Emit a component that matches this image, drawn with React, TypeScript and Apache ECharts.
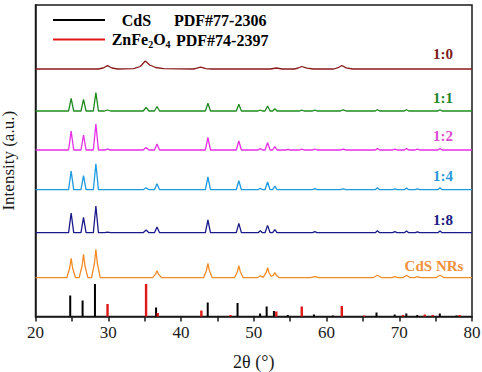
import React, { useEffect, useRef } from "react";
import * as echarts from "echarts";

// 2θ range and tick labels
const xTicks = [20, 30, 40, 50, 60, 70, 80];

// Curve names (top to bottom)
const curveNames = ["1:0", "1:1", "1:2", "1:4", "1:8", "CdS NRs"];

// XRD patterns: [2θ, relative intensity (a.u.)]
const p1_0 = [[20,0],[28.6,0],[29.3,1],[29.9,3.3],[30.5,1],[31.3,0],[33.5,0.3],[34.4,2.5],[35.1,8],[35.7,4],[36.5,1.5],[37.6,0.3],[41.7,0],[42.2,0.8],[42.7,1.8],[43.4,0.4],[44.2,0],[52.3,0],[53.1,1],[53.9,0],[55.6,0],[56.1,1],[56.6,2.5],[57.3,0.8],[58.2,0],[61.0,0],[61.6,1.3],[62.1,3.5],[62.7,1.2],[63.6,0],[80,0]];

const p1_1 = [[20,0],[24.55,0],[24.9,12.7],[25.25,0],[26.25,0],[26.6,11.7],[26.95,0],[27.95,0],[28.3,18.3],[28.65,0],[29.5,0],[29.9,1],[30.3,0],[34.8,0],[35.2,3.5],[35.6,0],[36.35,0],[36.7,4.5],[37.05,0],[43.35,0],[43.7,7.7],[44.05,0],[47.6,0],[47.95,6.7],[48.3,0],[50.6,0],[50.9,1],[51.2,0],[51.55,0],[51.9,5],[52.25,0],[52.6,0],[52.9,2.3],[53.2,0],[56.3,0],[56.6,0.8],[56.9,0],[58.1,0],[58.4,0.8],[58.7,0],[61.9,0],[62.3,1.2],[62.7,0],[66.7,0],[67,1.3],[67.3,0],[70.7,0],[71,1.3],[71.3,0],[75.3,0],[75.6,1.3],[75.9,0],[80,0]];

const p1_2 = [[20,0],[24.55,0],[24.9,19],[25.25,0],[26.25,0],[26.6,15],[26.95,0],[27.95,0],[28.3,26],[28.65,0],[29.5,0],[29.9,0.8],[30.3,0],[34.8,0],[35.2,2.5],[35.6,0],[36.35,0],[36.7,6],[37.05,0],[43.35,0],[43.7,12.7],[44.05,0],[47.6,0],[47.95,9],[48.3,0],[50.6,0],[50.9,1.5],[51.2,0],[51.55,0],[51.9,7.3],[52.25,0],[52.6,0],[52.9,3.3],[53.2,0],[54.4,0],[54.7,0.6],[55,0],[56.3,0],[56.6,0.8],[56.9,0],[58.1,0],[58.4,1],[58.7,0],[61.9,0],[62.3,0.8],[62.7,0],[66.7,0],[67,1.5],[67.3,0],[69.1,0],[69.4,0.8],[69.7,0],[70.7,0],[71,1.5],[71.3,0],[72.2,0],[72.5,0.8],[72.8,0],[75.3,0],[75.6,1.5],[75.9,0],[80,0]];

const p1_4 = [[20,0],[24.55,0],[24.9,18.7],[25.25,0],[26.25,0],[26.6,14],[26.95,0],[27.95,0],[28.3,26],[28.65,0],[34.8,0],[35.2,2],[35.6,0],[36.35,0],[36.7,6],[37.05,0],[43.35,0],[43.7,12.7],[44.05,0],[47.6,0],[47.95,9],[48.3,0],[50.6,0],[50.9,1.5],[51.2,0],[51.55,0],[51.9,7.7],[52.25,0],[52.6,0],[52.9,3.5],[53.2,0],[58.1,0],[58.4,1],[58.7,0],[61.9,0],[62.3,0.8],[62.7,0],[66.7,0],[67,2],[67.3,0],[69.1,0],[69.4,0.8],[69.7,0],[70.7,0],[71,1.8],[71.3,0],[72.2,0],[72.5,0.8],[72.8,0],[75.3,0],[75.6,2],[75.9,0],[80,0]];

const p1_8 = [[20,0],[24.55,0],[24.9,19.7],[25.25,0],[26.25,0],[26.6,15.3],[26.95,0],[27.95,0],[28.3,26.7],[28.65,0],[29.5,0],[29.9,0.5],[30.3,0],[34.8,0],[35.2,2.7],[35.6,0],[36.35,0],[36.7,5.7],[37.05,0],[43.35,0],[43.7,12.7],[44.05,0],[47.6,0],[47.95,9.3],[48.3,0],[50.6,0],[50.9,2],[51.2,0],[51.55,0],[51.9,7.3],[52.25,0],[52.6,0],[52.9,3],[53.2,0],[58.1,0],[58.4,1],[58.7,0],[66.7,0],[67,2],[67.3,0],[69.1,0],[69.4,1],[69.7,0],[70.7,0],[71,1.7],[71.3,0],[72.2,0],[72.5,0.8],[72.8,0],[75.3,0],[75.6,1.7],[75.9,0],[80,0]];

const pNRs = [[20,0],[24.3,0],[24.7,9.7],[24.9,19.3],[25.1,9.7],[25.5,0],[26.0,0],[26.4,11.7],[26.6,23.3],[26.8,11.7],[27.2,0],[27.7,0],[28.1,14.2],[28.3,28.3],[28.5,14.2],[28.9,0],[36.1,0],[36.5,3.5],[36.7,7],[36.9,3.5],[37.3,0],[43.1,0],[43.5,7.2],[43.7,14.3],[43.9,7.2],[44.3,0],[47.35,0],[47.75,6],[47.95,12],[48.15,6],[48.55,0],[50.5,0],[50.9,2],[51.3,0.3],[51.35,0.5],[51.7,5],[51.9,10],[52.1,5],[52.4,1.2],[52.7,2.5],[52.9,5],[53.1,2.5],[53.5,0],[57.8,0],[58.4,1],[59,0],[66.4,0],[67,2.5],[67.6,0],[69,0],[69.4,1],[69.8,0],[70.5,0],[71,2.5],[71.5,0],[72.1,0],[72.5,1],[72.9,0],[75,0],[75.6,2.5],[76.2,0],[80,0]];

// Reference sticks: [2θ, relative intensity]
const cdsPdf = [[24.8,21],[26.5,16],[28.2,32.5],[36.6,9],[43.7,14],[47.8,13.5],[50.9,3],[51.8,10],[52.8,5.5],[54.7,1.5],[58.3,2],[60.9,1],[66.9,4],[69.4,2],[71.0,3],[72.5,1.5],[75.6,3],[77.9,1]];
const znfePdf = [[29.9,12.5],[35.2,32.5],[36.8,3.5],[42.8,6],[46.8,1.5],[53.1,5],[56.6,10],[62.1,10.5],[65.2,1],[70.5,1.5],[73.5,2],[74.6,1.5],[78.3,1.5]];

const curves = [p1_0, p1_1, p1_2, p1_4, p1_8, pNRs];
const offsets = [247.5, 205.5, 166.5, 126.8, 83.8, 38.8];
const colors = ["#8B1A1A", "#1F8A1F", "#E62EE6", "#1E9AE0", "#1A1A8A", "#F28C28"];
const labelColors = ["#7B1C1C", "#23862A", "#DC4CD0", "#2A98D8", "#1A1A82", "#F0903A"];
const labelPos = [[443, 54], [443, 98], [443, 135.5], [443, 176], [443, 219.5], [434, 266]];

const FONT = '"Liberation Serif", "Times New Roman", serif';

export default function App() {
  const ref = useRef<HTMLDivElement>(null);
  useEffect(() => {
    if (!ref.current) return;
    const chart = echarts.init(ref.current, null, { renderer: "svg" });
    const lineSeries = curves.map((c, i) => ({
      type: "line",
      name: curveNames[i],
      data: c.map(([x, y]) => [x, y + offsets[i]]),
      symbol: "none",
      lineStyle: { color: colors[i], width: 1.3 },
      z: 3,
    }));
    const labels = curveNames.map((n, i) => ({
      type: "text",
      x: labelPos[i][0],
      y: labelPos[i][1],
      style: {
        text: n,
        fill: labelColors[i],
        font: `bold 15px ${FONT}`,
        align: "center",
        verticalAlign: "middle",
      },
    }));
    chart.setOption({
      animation: false,
      grid: {
        left: 35.5, right: 10, top: 5, bottom: 55.5,
        outerBoundsMode: "none",
        containLabel: false,
        show: true, borderColor: "#1a1a1a", borderWidth: 1.5,
      },
      xAxis: {
        type: "value", min: xTicks[0], max: xTicks[xTicks.length - 1], interval: 10,
        name: "2θ (°)", nameLocation: "middle", nameGap: 36,
        nameTextStyle: { fontFamily: FONT, fontSize: 18, color: "#1a1a1a" },
        axisLine: { lineStyle: { color: "#1a1a1a", width: 1.5 } },
        axisTick: { show: true, length: 5, lineStyle: { color: "#1a1a1a", width: 1.5 } },
        minorTick: { show: true, splitNumber: 2, length: 5, lineStyle: { color: "#1a1a1a", width: 1.5 } },
        axisLabel: { fontFamily: FONT, fontSize: 17, color: "#1a1a1a", margin: 7 },
        splitLine: { show: false },
      },
      yAxis: {
        type: "value", min: 0, max: 311.5,
        name: "Intensity (a.u.)", nameLocation: "middle", nameGap: 19,
        nameTextStyle: { fontFamily: FONT, fontSize: 17, color: "#1a1a1a" },
        axisLine: { show: true, lineStyle: { color: "#1a1a1a", width: 1.5 } },
        axisTick: { show: false },
        axisLabel: { show: false },
        splitLine: { show: false },
      },
      series: [
        ...lineSeries,
        {
          type: "bar", name: "CdS PDF#77-2306", data: cdsPdf, barWidth: 2, barGap: "-100%",
          itemStyle: { color: "#000" }, z: 2,
        },
        {
          type: "bar", name: "ZnFe2O4 PDF#74-2397", data: znfePdf, barWidth: 2.4, barGap: "-100%",
          itemStyle: { color: "#E01818" }, z: 2,
        },
      ],
      graphic: [
        { type: "line", shape: { x1: 53, y1: 20, x2: 105, y2: 20 }, style: { stroke: "#000", lineWidth: 2 } },
        { type: "text", x: 121.7, y: 20, style: { text: "CdS", font: `bold 16px ${FONT}`, fill: "#000", verticalAlign: "middle" } },
        { type: "text", x: 174, y: 20, style: { text: "PDF#77-2306", font: `bold 16px ${FONT}`, fill: "#000", verticalAlign: "middle" } },
        { type: "line", shape: { x1: 53, y1: 39.5, x2: 105, y2: 39.5 }, style: { stroke: "#E01818", lineWidth: 2 } },
        {
          type: "text", x: 111.7, y: 40,
          style: {
            text: "{m|ZnFe}{s|2}{m|O}{s|4}",
            verticalAlign: "middle",
            rich: {
              m: { font: `bold 16px ${FONT}`, fill: "#000", lineHeight: 18, verticalAlign: "top" },
              s: { font: `bold 10px ${FONT}`, fill: "#000", lineHeight: 18, verticalAlign: "bottom", padding: [8, 0, 0, 0] },
            },
          },
        },
        { type: "text", x: 176, y: 40, style: { text: "PDF#74-2397", font: `bold 16px ${FONT}`, fill: "#000", verticalAlign: "middle" } },
        ...labels,
      ],
    });
    return () => chart.dispose();
  }, []);
  return <div ref={ref} style={{ position: "absolute", left: 0, top: 0, width: 482, height: 372 }} />;
}
